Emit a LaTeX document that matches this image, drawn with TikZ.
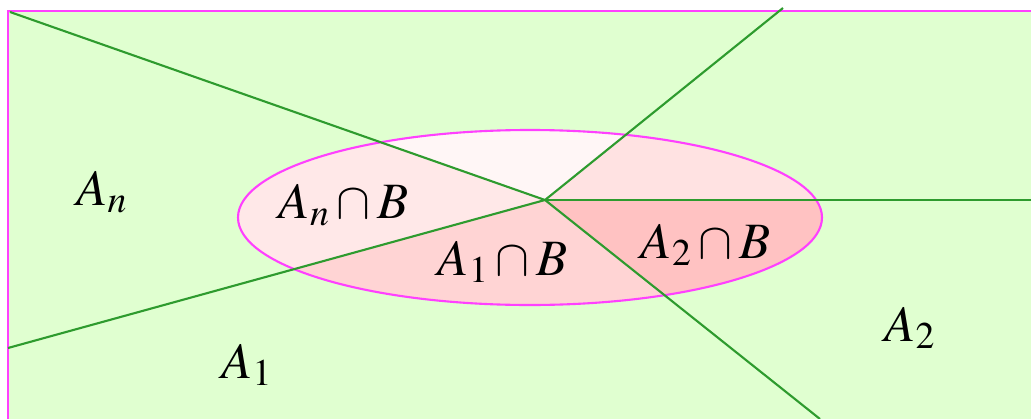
\documentclass[tikz,border=0pt]{standalone}
\usepackage{mathptmx}
\usepackage{tikz}
\usetikzlibrary{positioning, calc}
\definecolor{bggreen}{HTML}{E0FFD0}
\definecolor{rimpink}{HTML}{FF40FF}
\definecolor{cutgreen}{HTML}{2E9B2E}
\definecolor{pinktop}{HTML}{FFF6F6}
\definecolor{pinkright}{HTML}{FFE2E2}
\definecolor{pinkn}{HTML}{FFE8E8}
\definecolor{pinkone}{HTML}{FFD4D4}
\definecolor{pinktwo}{HTML}{FFC2C2}

\tikzset{
  cut/.style={draw=cutgreen, line width=1.2pt},
  setlabel/.style={inner sep=0pt, font=\fontsize{29}{32}\selectfont},
}

\begin{document}
\begin{tikzpicture}[x=0.02cm, y=-0.02cm]
        \useasboundingbox (0,0) rectangle (1031,419);
        \clip (0,0) rectangle (1031,419);
        \coordinate (c) at (545,200);
        \coordinate (tl) at (10,12);
        \coordinate (tp) at (783,8);
        \coordinate (rt) at (1040,200);
        \coordinate (bt) at (820,419);
        \coordinate (lf) at (8,348);
        \fill[bggreen] (8,11) rectangle (1045,430);
        \draw[rimpink, line width=1.2pt] (8,430) -- (8,11) -- (1045,11);
        \begin{scope}
            \clip (530,217.5) ellipse [x radius=292, y radius=87.5];
            \fill[pinktop] (c) -- (tl) -- (tp) -- cycle;
            \fill[pinkright] (c) -- (tp) -- (1100,0) -- (1100,200) -- cycle;
            \fill[pinktwo] (c) -- (1100,200) -- (1100,430) -- (bt) -- cycle;
            \fill[pinkone] (c) -- (bt) -- (0,430) -- (lf) -- cycle;
            \fill[pinkn] (c) -- (lf) -- (0,0) -- (tl) -- cycle;
        \end{scope}
        \draw[rimpink, line width=1.2pt] (530,217.5) ellipse [x radius=292, y radius=87.5];
        \draw[cut] (c) -- (tl);
        \draw[cut] (c) -- (tp);
        \draw[cut] (c) -- (rt);
        \draw[cut] (c) -- (bt);
        \draw[cut] (c) -- (lf);
        \node[setlabel] (an) at (102,192) {$A_n$};
        \node[setlabel] (a1) at (247,365) {$A_1$};
        \node[setlabel] (a2) at (910,328) {$A_2$};
        \node[setlabel] (anb) at (344,205) {$A_n\cap B$};
        \node[setlabel] (a1b) at (503,262) {$A_1\cap B$};
        \node[setlabel] (a2b) at (706,245) {$A_2\cap B$};
    \end{tikzpicture}
\end{document}
